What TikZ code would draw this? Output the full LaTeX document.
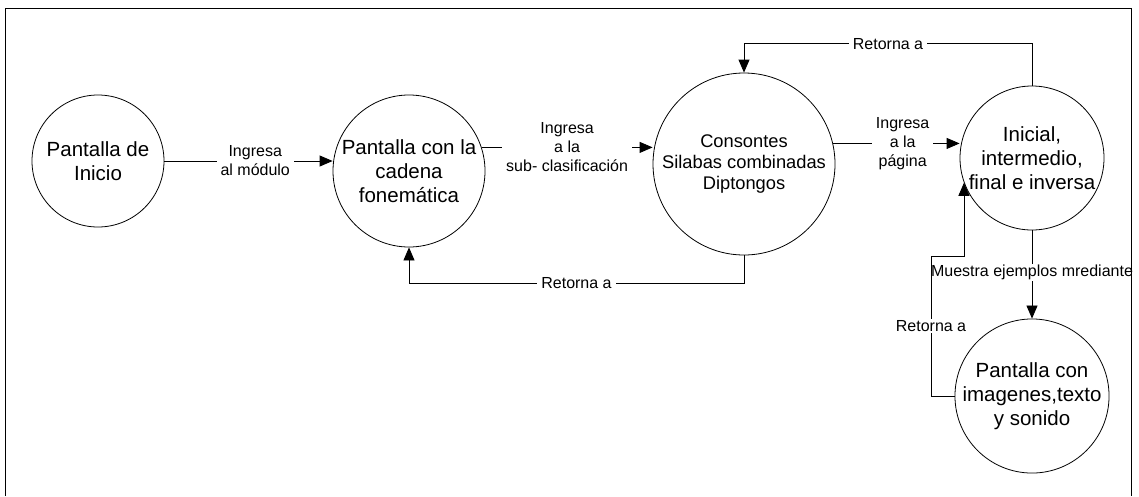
\documentclass[tikz,border=0pt]{standalone}
\usepackage{fontspec}
\setmainfont{Liberation Sans}
\usetikzlibrary{arrows.meta}
\tikzset{
  pant/.style={draw, circle, inner sep=0pt, align=center, line width=0.8pt,
    font=\fontsize{20.5}{24}\selectfont},
  lbl/.style={fill=white, align=center, inner xsep=4pt, inner ysep=1pt,
    font=\fontsize{16}{19}\selectfont},
  arr/.style={line width=0.8pt, -{Triangle[length=13pt,width=11pt]}}
}
\begin{document}
\begin{tikzpicture}[x=1pt,y=-1pt]
    \useasboundingbox (0,0) rectangle (1139,496);
    \node [pant, minimum size=132pt] (c1) at (98,161) {Pantalla de\\Inicio};
    \node [pant, minimum size=152pt] (c2) at (409,171) {Pantalla con la\\cadena\\fonemática};
    \node [pant, minimum size=182pt, font=\fontsize{18.3}{21}\selectfont] (c3) at (744,164) {Consontes\\Silabas combinadas\\Diptongos};
    \node [pant, minimum size=144pt] (c4) at (1032,158) {Inicial,\\intermedio,\\final e inversa};
    \node [pant, minimum size=142pt] (c5) at (1032,396) {Pantalla con\\imagenes,texto\\y sonido};
    \coordinate (k1) at (931,256);
    \draw [arr] (c1.east) -- (c1.east -| c2.west) node [lbl, pos=0.54] {Ingresa\\al módulo};
    \draw [arr] (c2.18) -- (c2.18 -| c3.west) node [lbl, midway] {Ingresa\\a la\\sub- clasificación};
    \draw [arr] (c3.13) -- (c3.13 -| c4.west) node [lbl, pos=0.55] {Ingresa\\a la\\página};
    \draw [arr] (c3.south) -- ++(0,28) -| (c2.south) node [lbl, pos=0.25] {Retorna a};
    \draw [arr] (c4.north) -- ++(0,-42) -| (c3.north) node [lbl, pos=0.25] {Retorna a};
    \draw [arr] (c4.south) -- (c5.north) node [lbl, pos=0.48] {Muestra ejemplos mrediante};
    \draw [arr] (c5.west) -| (k1) node [lbl, pos=0.75] {Retorna a} -| (c4.200);
    \draw [line width=0.8pt] (5,496) -- (5,8) -- (1131,8) -- (1131,496);
\end{tikzpicture}
\end{document}
